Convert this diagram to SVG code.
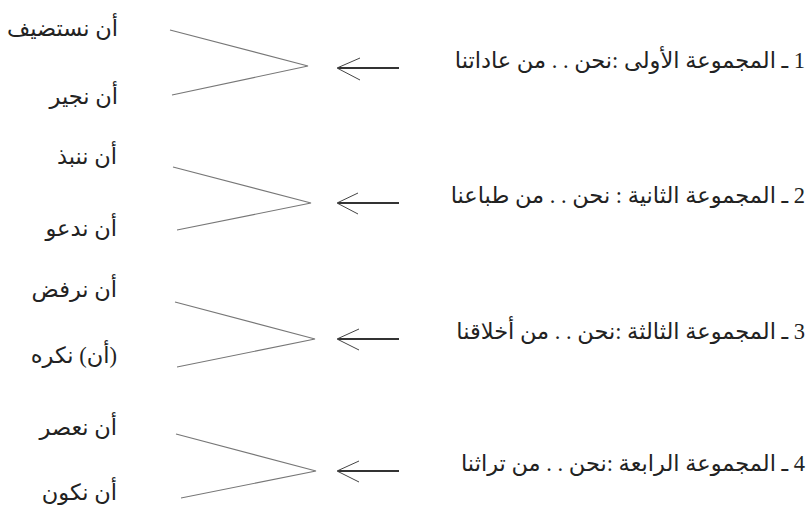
<svg xmlns="http://www.w3.org/2000/svg" width="810" height="515" viewBox="0 0 810 515">
<style>
.w{font-family:"Liberation Serif","DejaVu Sans",serif;font-size:22.5px;fill:#222;}
.lb{font-family:"Liberation Serif","DejaVu Sans",serif;font-size:22.5px;fill:#222;}
.br{stroke:#777;stroke-width:1.1;fill:none;}
.ar{stroke:#333;stroke-width:1.8;fill:none;}
.ah{stroke:#444;stroke-width:1;fill:none;}
</style>
<rect width="810" height="515" fill="#fff"/>
<g id="group1">
<text class="w" x="118" y="36" direction="rtl" text-anchor="start">أن نستضيف</text>
<text class="w" x="118" y="104" direction="rtl" text-anchor="start">أن نجير</text>
<text class="lb" x="805" y="68" direction="rtl" text-anchor="start">1 ـ المجموعة الأولى :نحن . . من عاداتنا</text>
</g>
<g id="group2">
<text class="w" x="117" y="164" direction="rtl" text-anchor="start">أن ننبذ</text>
<text class="w" x="117" y="236" direction="rtl" text-anchor="start">أن ندعو</text>
<text class="lb" x="805" y="203" direction="rtl" text-anchor="start">2 ـ المجموعة الثانية : نحن . . من طباعنا</text>
</g>
<g id="group3">
<text class="w" x="117" y="297" direction="rtl" text-anchor="start">أن نرفض</text>
<text class="w" x="117" y="363" direction="rtl" text-anchor="start">(أن) نكره</text>
<text class="lb" x="805" y="339" direction="rtl" text-anchor="start">3 ـ المجموعة الثالثة :نحن . . من أخلاقنا</text>
</g>
<g id="group4">
<text class="w" x="117" y="435" direction="rtl" text-anchor="start">أن نعصر</text>
<text class="w" x="117" y="500" direction="rtl" text-anchor="start">أن نكون</text>
<text class="lb" x="805" y="471" direction="rtl" text-anchor="start">4 ـ المجموعة الرابعة :نحن . . من تراثنا</text>
</g>
<g id="connectors">
<polyline class="br" points="170,30 308,66 172,95"/>
<line class="ar" x1="338" y1="68" x2="399" y2="68"/>
<polyline class="ah" points="360,58 337,68 360,80"/>
<polyline class="br" points="173,167 311,203 177,230"/>
<line class="ar" x1="338" y1="203" x2="399" y2="203"/>
<polyline class="ah" points="358,193 337,203 358,214"/>
<polyline class="br" points="175,302 315,339 177,367"/>
<line class="ar" x1="338" y1="339" x2="399" y2="339"/>
<polyline class="ah" points="359,329 337,339 359,350"/>
<polyline class="br" points="176,434 316,471 181,498"/>
<line class="ar" x1="338" y1="471" x2="399" y2="471"/>
<polyline class="ah" points="359,461 337,471 359,482"/>
</g>
</svg>
